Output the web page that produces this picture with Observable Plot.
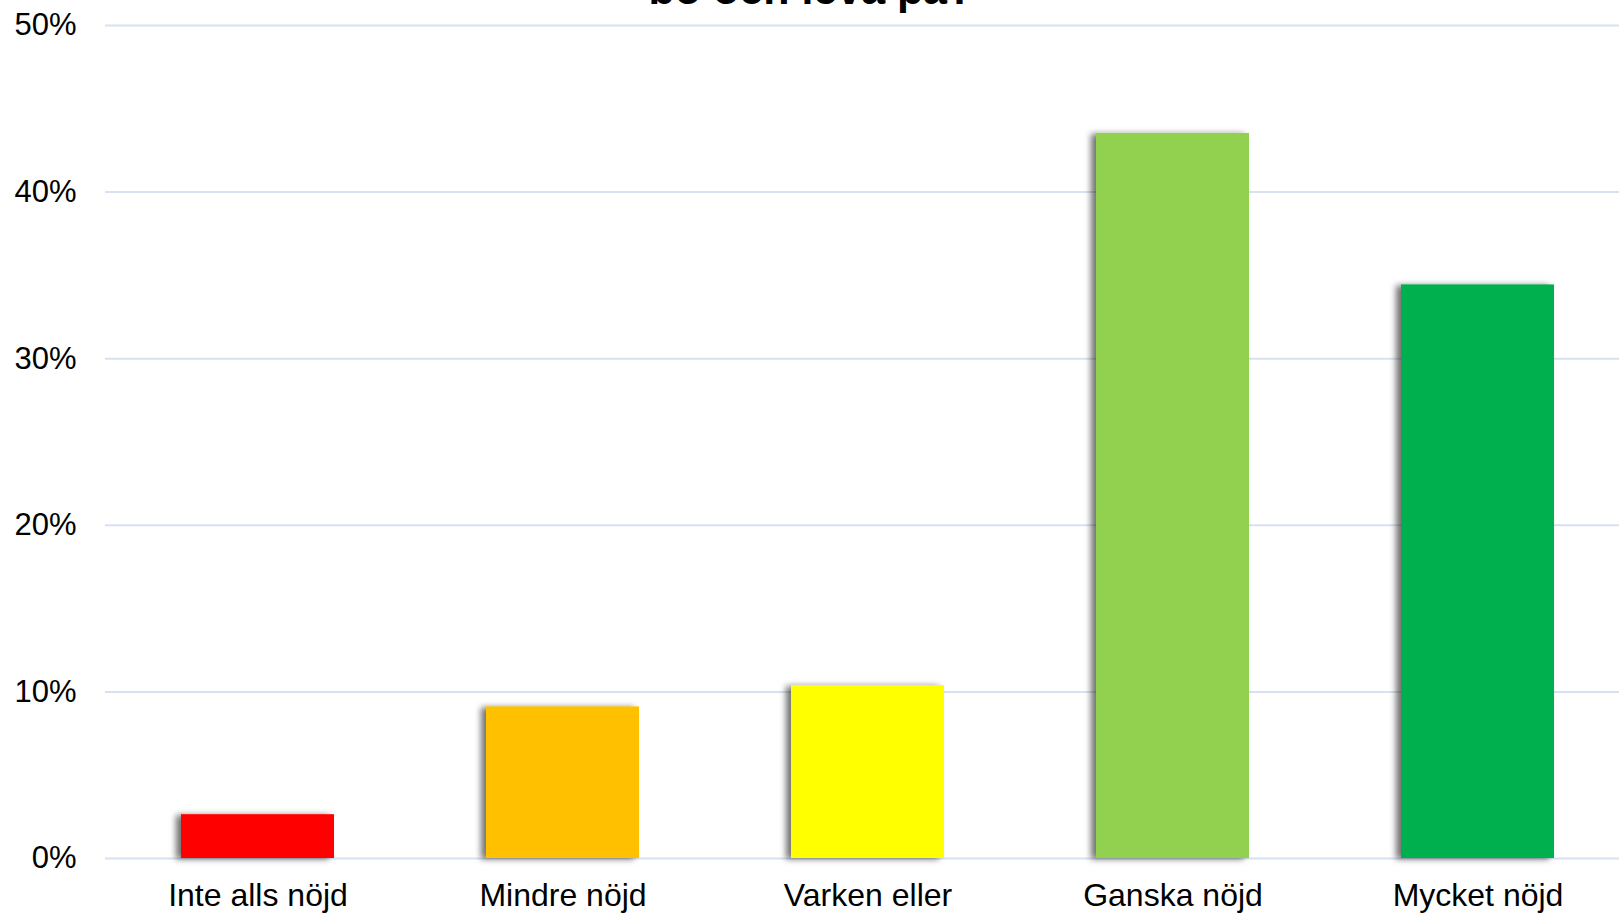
<!DOCTYPE html>
<html>
<head>
<meta charset="utf-8">
<script src="https://cdn.jsdelivr.net/npm/d3@7"></script>
<script src="https://cdn.jsdelivr.net/npm/@observablehq/plot@0.6"></script>
<style>
  html, body { margin: 0; padding: 0; background: #fff; overflow: hidden; }
  #wrap { position: relative; width: 1619px; height: 914px; overflow: hidden; }
  #title { position: absolute; left: 0; width: 1622px; top: -32.4px; text-align: center;
    font: bold 43px "Liberation Sans", Arial, sans-serif; line-height: 1; color: #000; }
  #chart { position: absolute; left: 0; top: 0; }
</style>
</head>
<body>
<div id="wrap">
  <div id="chart"></div>
  <div id="title">bo och leva på?</div>
</div>
<script>
const categories = ["Inte alls nöjd", "Mindre nöjd", "Varken eller", "Ganska nöjd", "Mycket nöjd"];
const values = [2.63, 9.1, 10.37, 43.52, 34.43];
const colors = ["#FF0000", "#FFC000", "#FFFF00", "#92D050", "#00B050"];
const yTicks = [0, 10, 20, 30, 40, 50];

const data = categories.map((c, i) => ({category: c, value: values[i]}));

const chart = Plot.plot({
  width: 1619,
  height: 914,
  marginLeft: 105,
  marginRight: -11,
  marginTop: 25,
  marginBottom: 56,
  style: {fontFamily: "'Liberation Sans', Arial, sans-serif", fontSize: "31px", color: "#000", background: "#fff"},
  x: {domain: categories, paddingInner: 0.5, paddingOuter: 0.25, label: null, tickSize: 0, tickPadding: 25},
  y: {domain: [0, 50], ticks: yTicks, tickFormat: d => d + "%", label: null, tickSize: 0, tickPadding: 29},
  color: {domain: categories, range: colors},
  marks: [
    Plot.ruleY(yTicks, {stroke: "#d6e1f1", strokeWidth: 2}),
    Plot.barY(data, {x: "category", y: "value", fill: "category", className: "bars"}),
    Plot.axisX({tickSize: 0, tickPadding: 25, fontSize: 32}),
    Plot.axisY({ticks: yTicks, tickFormat: d => d + "%", tickSize: 0, tickPadding: 29, fontSize: 31})
  ]
});

// drop shadow on bars
const svg = d3.select(chart);
const defs = svg.insert("defs", ":first-child");
const f = defs.append("filter").attr("id", "shadow").attr("x", "-20%").attr("y", "-20%").attr("width", "140%").attr("height", "140%");
f.append("feDropShadow").attr("dx", -5).attr("dy", 1).attr("stdDeviation", 3).attr("flood-color", "#000").attr("flood-opacity", 0.55);
svg.selectAll("g.bars rect, g[aria-label='bar'] rect").attr("filter", "url(#shadow)");

document.getElementById("chart").appendChild(chart);
</script>
</body>
</html>
